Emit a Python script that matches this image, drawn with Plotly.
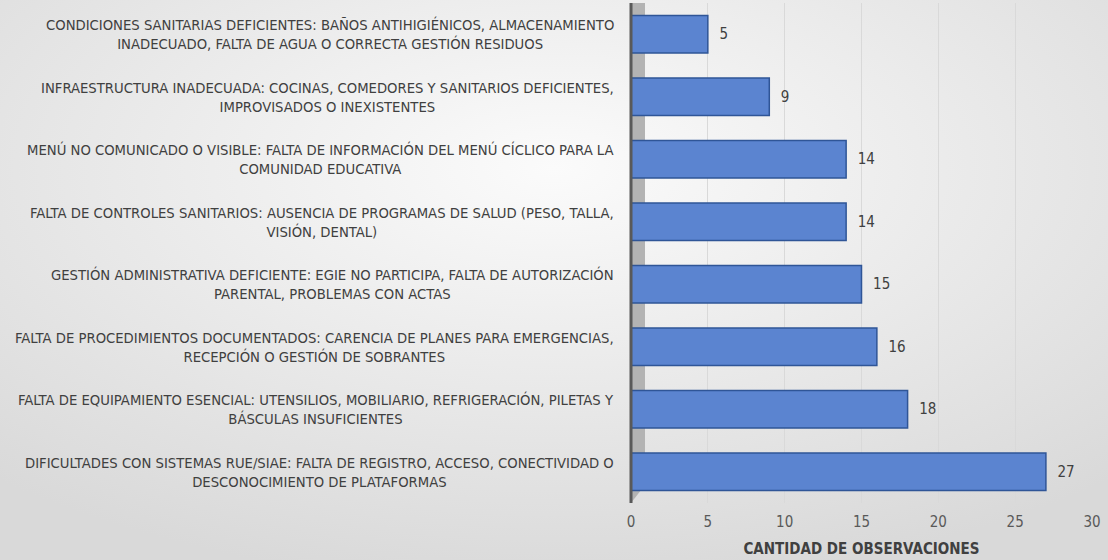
import base64
import plotly.graph_objects as go

categories = [
    "CONDICIONES SANITARIAS DEFICIENTES: BAÑOS ANTIHIGIÉNICOS, ALMACENAMIENTO<br>INADECUADO, FALTA DE AGUA O CORRECTA GESTIÓN RESIDUOS",
    "INFRAESTRUCTURA INADECUADA: COCINAS, COMEDORES Y SANITARIOS DEFICIENTES,<br>IMPROVISADOS O INEXISTENTES",
    "MENÚ NO COMUNICADO O VISIBLE: FALTA DE INFORMACIÓN DEL MENÚ CÍCLICO PARA LA<br>COMUNIDAD EDUCATIVA",
    "FALTA DE CONTROLES SANITARIOS: AUSENCIA DE PROGRAMAS DE SALUD (PESO, TALLA,<br>VISIÓN, DENTAL)",
    "GESTIÓN ADMINISTRATIVA DEFICIENTE: EGIE NO PARTICIPA, FALTA DE AUTORIZACIÓN<br>PARENTAL, PROBLEMAS CON ACTAS",
    "FALTA DE PROCEDIMIENTOS DOCUMENTADOS: CARENCIA DE PLANES PARA EMERGENCIAS,<br>RECEPCIÓN O GESTIÓN DE SOBRANTES",
    "FALTA DE EQUIPAMIENTO ESENCIAL: UTENSILIOS, MOBILIARIO, REFRIGERACIÓN, PILETAS Y<br>BÁSCULAS INSUFICIENTES",
    "DIFICULTADES CON SISTEMAS RUE/SIAE: FALTA DE REGISTRO, ACCESO, CONECTIVIDAD O<br>DESCONOCIMIENTO DE PLATAFORMAS",
]
values = [5, 9, 14, 14, 15, 16, 18, 27]
x_ticks = [0, 5, 10, 15, 20, 25, 30]
x_title = "CANTIDAD DE OBSERVACIONES"

W, H = 1108, 560
ML, MR, MT, MB = 631, 16, 3, 57
PW, PH = W - ML - MR, H - MT - MB

FONT = "Liberation Sans Narrow, Arial Narrow, DejaVu Sans Condensed, sans-serif"

svg = (
    '<svg xmlns="http://www.w3.org/2000/svg" width="1108" height="560" preserveAspectRatio="none">'
    '<defs><radialGradient id="g" cx="50%" cy="30%" r="75%">'
    '<stop offset="0%" stop-color="#fbfbfb"/><stop offset="100%" stop-color="#d9d9d9"/>'
    '</radialGradient></defs><rect width="1108" height="560" fill="url(#g)"/></svg>'
)
bg_uri = "data:image/svg+xml;base64," + base64.b64encode(svg.encode()).decode()

fig = go.Figure()
fig.add_trace(go.Bar(
    y=categories, x=values, orientation="h",
    width=0.6,
    marker=dict(color="#5b84d0", line=dict(color="#2f5597", width=1.5)),
    text=values, texttemplate="  %{x}", textposition="outside",
    textfont=dict(family=FONT, size=15, color="#404040"),
    cliponaxis=False,
))

annotations = []
for c in categories:
    annotations.append(dict(
        x=(616 - ML) / PW, xref="paper", y=c, yref="y",
        text=c, showarrow=False, xanchor="right", yanchor="middle", align="center",
        font=dict(family=FONT, size=14.7, color="#404040"),
    ))

fig.update_layout(
    width=W, height=H, autosize=False,
    margin=dict(l=ML, r=MR, t=MT, b=MB),
    paper_bgcolor="#e6e6e6", plot_bgcolor="rgba(0,0,0,0)",
    showlegend=False,
    annotations=annotations,
    images=[dict(source=bg_uri, xref="paper", yref="paper",
                 x=-ML / PW, y=1 + MT / PH, sizex=W / PW, sizey=H / PH,
                 xanchor="left", yanchor="top", sizing="stretch", layer="below")],
    shapes=[
        dict(type="path", xref="paper", yref="paper",
             path=f"M 0 0 L 0 1 L {14/PW} 1 L {14/PW} {18/PH} Z",
             fillcolor="#b3b3b3", line=dict(width=0), layer="below"),
        dict(type="line", xref="paper", yref="paper", x0=0, x1=0, y0=0.0, y1=1,
             line=dict(color="#595959", width=3), layer="above"),
    ],
    xaxis=dict(
        range=[0, 30], tickvals=x_ticks, ticktext=[str(t) for t in x_ticks],
        showgrid=True, gridcolor="#d9d9d9", gridwidth=1, zeroline=False,
        showline=False, ticks="", ticklen=0, ticklabelstandoff=8,
        tickfont=dict(family=FONT, size=15, color="#595959"),
        title=dict(text=f"<b>{x_title}</b>", standoff=13,
                   font=dict(family=FONT, size=15, color="#404040")),
    ),
    yaxis=dict(
        categoryorder="array", categoryarray=categories, autorange="reversed",
        showticklabels=False, showgrid=False, zeroline=False, showline=False,
    ),
)

fig.write_html("out.html", config={"displayModeBar": False},
               post_script="document.body.style.margin='0';")
